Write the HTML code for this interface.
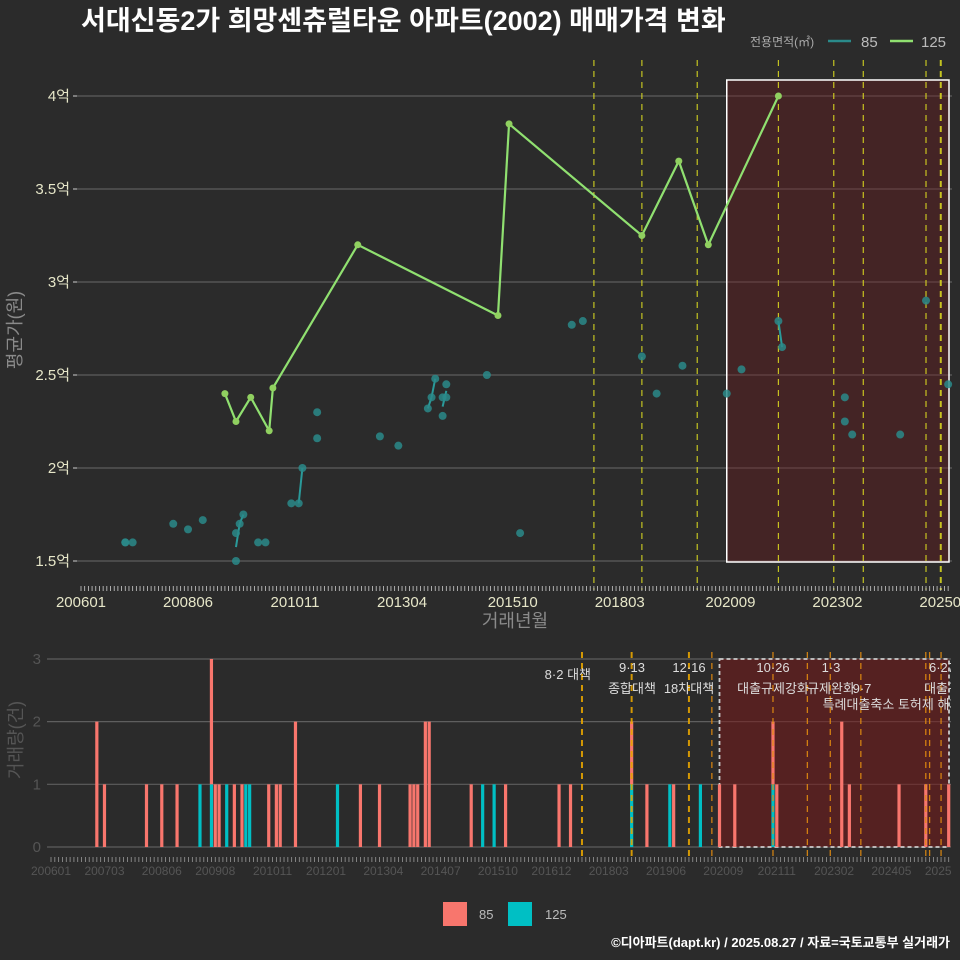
<!DOCTYPE html>
<html><head><meta charset="utf-8">
<style>
html,body{margin:0;padding:0;background:#2b2b2b;}
svg{display:block;font-family:"Liberation Sans","Noto Sans CJK KR",sans-serif;}
</style></head>
<body>
<svg id="chart" width="960" height="960" viewBox="0 0 960 960" xmlns="http://www.w3.org/2000/svg">
<defs><clipPath id="clipR"><rect x="0" y="0" width="951" height="960"/></clipPath></defs>
<rect x="0" y="0" width="960" height="960" fill="#2b2b2b"/>
<text x="81" y="30" fill="#ffffff" font-size="27" font-weight="bold">서대신동2가 희망센츄럴타운 아파트(2002) 매매가격 변화</text>
<g>
<text x="750" y="46" fill="#aaaaaa" font-size="12">전용면적(㎡)</text>
<line x1="828" y1="41" x2="851" y2="41" stroke="#2a8a8a" stroke-width="2.5"/>
<text x="861" y="47" fill="#bbbbbb" font-size="15">85</text>
<line x1="890" y1="41" x2="913" y2="41" stroke="#90e070" stroke-width="2.5"/>
<text x="921" y="47" fill="#bbbbbb" font-size="15">125</text>
</g>
<g id="topPanel"></g>
<g id="bottomPanel" clip-path="url(#clipR)"></g>
<g>
<rect x="443" y="902" width="24" height="24" fill="#F8766D"/>
<text x="479" y="919" fill="#bbbbbb" font-size="13">85</text>
<rect x="508" y="902" width="24" height="24" fill="#00BFC4"/>
<text x="545" y="919" fill="#bbbbbb" font-size="13">125</text>
</g>
<text x="950" y="947" text-anchor="end" fill="#ffffff" font-size="13" font-weight="bold">©디아파트(dapt.kr) / 2025.08.27 / 자료=국토교통부 실거래가</text>
</svg>
<script>
// months since 2006-01, prices in 억
const months85 = [12,12,14,25,29,33,42,42,43,44,48,50,57,59,60,64,64,81,86,94,95,96,98,98,99,99,110,119,133,136,152,156,163,175,179,189,190,207,207,209,222,229,235];
const prices85 = [1.6,1.6,1.6,1.70,1.67,1.72,1.50,1.65,1.70,1.75,1.60,1.60,1.81,1.81,2.00,2.16,2.30,2.17,2.12,2.32,2.38,2.48,2.28,2.38,2.38,2.45,2.50,1.65,2.77,2.79,2.60,2.40,2.55,2.40,2.53,2.79,2.65,2.38,2.25,2.18,2.18,2.90,2.45];
const months125 = [39,42,46,51,52,75,113,116,152,162,170,189];
const prices125 = [2.40,2.25,2.38,2.20,2.43,3.20,2.82,3.85,3.25,3.65,3.20,4.00];
const priceTicks = [1.5,2,2.5,3,3.5,4];
const priceTickLabels = ["1.5억","2억","2.5억","3억","3.5억","4억"];
const topTickMonths = [0,29,58,87,117,146,176,205,234];
const botTickMonths = [0,14,29,43,58,72,87,102,117,131,146,161,176,190,205,220,234];
const countTicks = [0,1,2,3];
const topPolicyMonths = [139,152,167,189,204,212,229,233];
const botPolicyMonths = [139,152,167,173,189,198,204,212,229,230,233];
const policyDates = ["8·2","9·13","12·16","10·26","1·3","9·7","6·27"];

const NS="http://www.w3.org/2000/svg";
function mk(parent,tag,attrs,text){const e=document.createElementNS(NS,tag);for(const k in attrs)e.setAttribute(k,attrs[k]);if(text!==undefined)e.textContent=text;parent.appendChild(e);return e;}
const xT=m=>81+3.69*m, yT=v=>561-(v-1.5)*186;
const xB=m=>51+3.82*m, yB=c=>847-c*62.67;
const lab=m=>{const y=2006+Math.floor(m/12),mo=m%12+1;return ""+y+(mo<10?"0":"")+mo;};

const topG=document.getElementById('topPanel');
priceTicks.forEach((v,i)=>{
  let g=mk(topG,'line',{x1:77,x2:952,y1:yT(v),y2:yT(v),stroke:'#5e5e5e','stroke-width':1.2});
  
  
  let tk=mk(topG,'line',{x1:73,x2:77,y1:yT(v),y2:yT(v),stroke:'#cccccc','stroke-width':1});
  
  
  let t=mk(topG,'text',{x:70,y:yT(v)+5,'text-anchor':'end',fill:'#e6e6c8','font-size':15},priceTickLabels[i]);
  
  
});
let hr=mk(topG,'rect',{x:xT(175),y:80,width:949-xT(175),height:482,fill:'rgba(110,25,30,0.38)',stroke:'#ffffff','stroke-width':1.5});


topPolicyMonths.forEach((m,i)=>{
  let l=mk(topG,'line',{x1:xT(m),x2:xT(m),y1:60,y2:590,stroke:'#dede20','stroke-width':i==7?2:1.2,'stroke-dasharray':'6,5',opacity:0.85});
  
  
});
for(let m=0;m<=235;m++){
  let l=mk(topG,'line',{x1:xT(m),x2:xT(m),y1:586,y2:591,stroke:'#cccccc','stroke-width':0.8});
  
  
}
topTickMonths.forEach(m=>{
  let t=mk(topG,'text',{x:xT(m),y:607,'text-anchor':'middle',fill:'#e6e6c8','font-size':15},lab(m));
  
  
});
let xt=mk(topG,'text',{x:515,y:627,'text-anchor':'middle',fill:'#8a8a8a','font-size':18},'거래년월');


let yt=mk(topG,'text',{x:0,y:0,transform:'translate(21,330) rotate(-90)','text-anchor':'middle',fill:'#8a8a8a','font-size':18},'평균가(원)');


const avg={};months85.forEach((m,i)=>{(avg[m]=avg[m]||[]).push(prices85[i]);});
const ms=Object.keys(avg).map(Number).sort((a,b)=>a-b);
const mean=m=>avg[m].reduce((a,b)=>a+b,0)/avg[m].length;
for(let i=1;i<ms.length;i++){
  if(ms[i]-ms[i-1]===1){
    let l=mk(topG,'line',{x1:xT(ms[i-1]),y1:yT(mean(ms[i-1])),x2:xT(ms[i]),y2:yT(mean(ms[i])),stroke:'#2a9a9a','stroke-width':2});
    
    
  }
}
months85.forEach((m,i)=>{
  let c=mk(topG,'circle',{cx:xT(m),cy:yT(prices85[i]),r:4,fill:'#2a8a8a',opacity:0.85});
  
  
});
let pts=months125.map((m,i)=>xT(m)+','+yT(prices125[i])).join(' ');
let pl=mk(topG,'polyline',{points:pts,fill:'none',stroke:'#90e070','stroke-width':2.2});


months125.forEach((m,i)=>{
  let c=mk(topG,'circle',{cx:xT(m),cy:yT(prices125[i]),r:3.5,fill:'#90d060'});
  
  
});

const botG=document.getElementById('bottomPanel');
countTicks.forEach(c=>{
  let g=mk(botG,'line',{x1:47,x2:952,y1:yB(c),y2:yB(c),stroke:'#5e5e5e','stroke-width':1.2});
  
  
  let t=mk(botG,'text',{x:41,y:yB(c)+5,'text-anchor':'end',fill:'#555555','font-size':15},String(c));
  
  
});
let by=mk(botG,'text',{x:0,y:0,transform:'translate(22,740) rotate(-90)','text-anchor':'middle',fill:'#555555','font-size':18},'거래량(건)');


let br=mk(botG,'rect',{x:xB(175),y:659,width:949-xB(175),height:188,fill:'rgba(120,25,25,0.55)',stroke:'#cccccc','stroke-width':1.8,'stroke-dasharray':'4,3'});


const c85={},c125={};
months85.forEach(m=>c85[m]=(c85[m]||0)+1);
months125.forEach(m=>c125[m]=(c125[m]||0)+1);
Object.keys(c125).forEach(k=>{
  const m=+k,n=c125[k];
  let r=mk(botG,'rect',{x:xB(m)-1.6,y:yB(n),width:3.2,height:yB(0)-yB(n),fill:'#00BFC4'});
  
  
});
Object.keys(c85).forEach(k=>{
  const m=+k,n=c85[k],b=c125[m]||0;
  let r=mk(botG,'rect',{x:xB(m)-1.6,y:yB(b+n),width:3.2,height:yB(b)-yB(b+n),fill:'#F8766D'});
  
  
});
botPolicyMonths.forEach((m,i)=>{
  let l=mk(botG,'line',{x1:xB(m),x2:xB(m),y1:652,y2:856,stroke:i<3?'#e6a400':'#e08a10','stroke-width':i<3?2:1.3,'stroke-dasharray':'6,5',opacity:0.9});
  
  
});
for(let m=0;m<=235;m++){
  let l=mk(botG,'line',{x1:xB(m),x2:xB(m),y1:857,y2:862,stroke:'#999999','stroke-width':0.8});
  
  
}
botTickMonths.forEach(m=>{
  let t=mk(botG,'text',{x:xB(m),y:875,'text-anchor':'middle',fill:'#555555','font-size':12},lab(m));
  
  
});
const ann=[
  [591,679,'end',policyDates[0]+' 대책'],
  [632,672,'middle',policyDates[1]],[632,693,'middle','종합대책'],
  [689,672,'middle',policyDates[2]],[689,693,'middle','18차대책'],
  [773,672,'middle',policyDates[3]],[773,693,'middle','대출규제강화'],
  [831,672,'middle',policyDates[4]],[831,693,'middle','규제완화'],[862,693,'middle',policyDates[5]],
  [892,709,'middle','특례대출축소 토허제 해제'],
  [942,672,'middle',policyDates[6]],[948,693,'middle','대출규제']
];
ann.forEach(a=>{
  let t=mk(botG,'text',{x:a[0],y:a[1],'text-anchor':a[2],fill:'#dddddd','font-size':13},a[3]);
  
  
});
</script>
</body></html>
